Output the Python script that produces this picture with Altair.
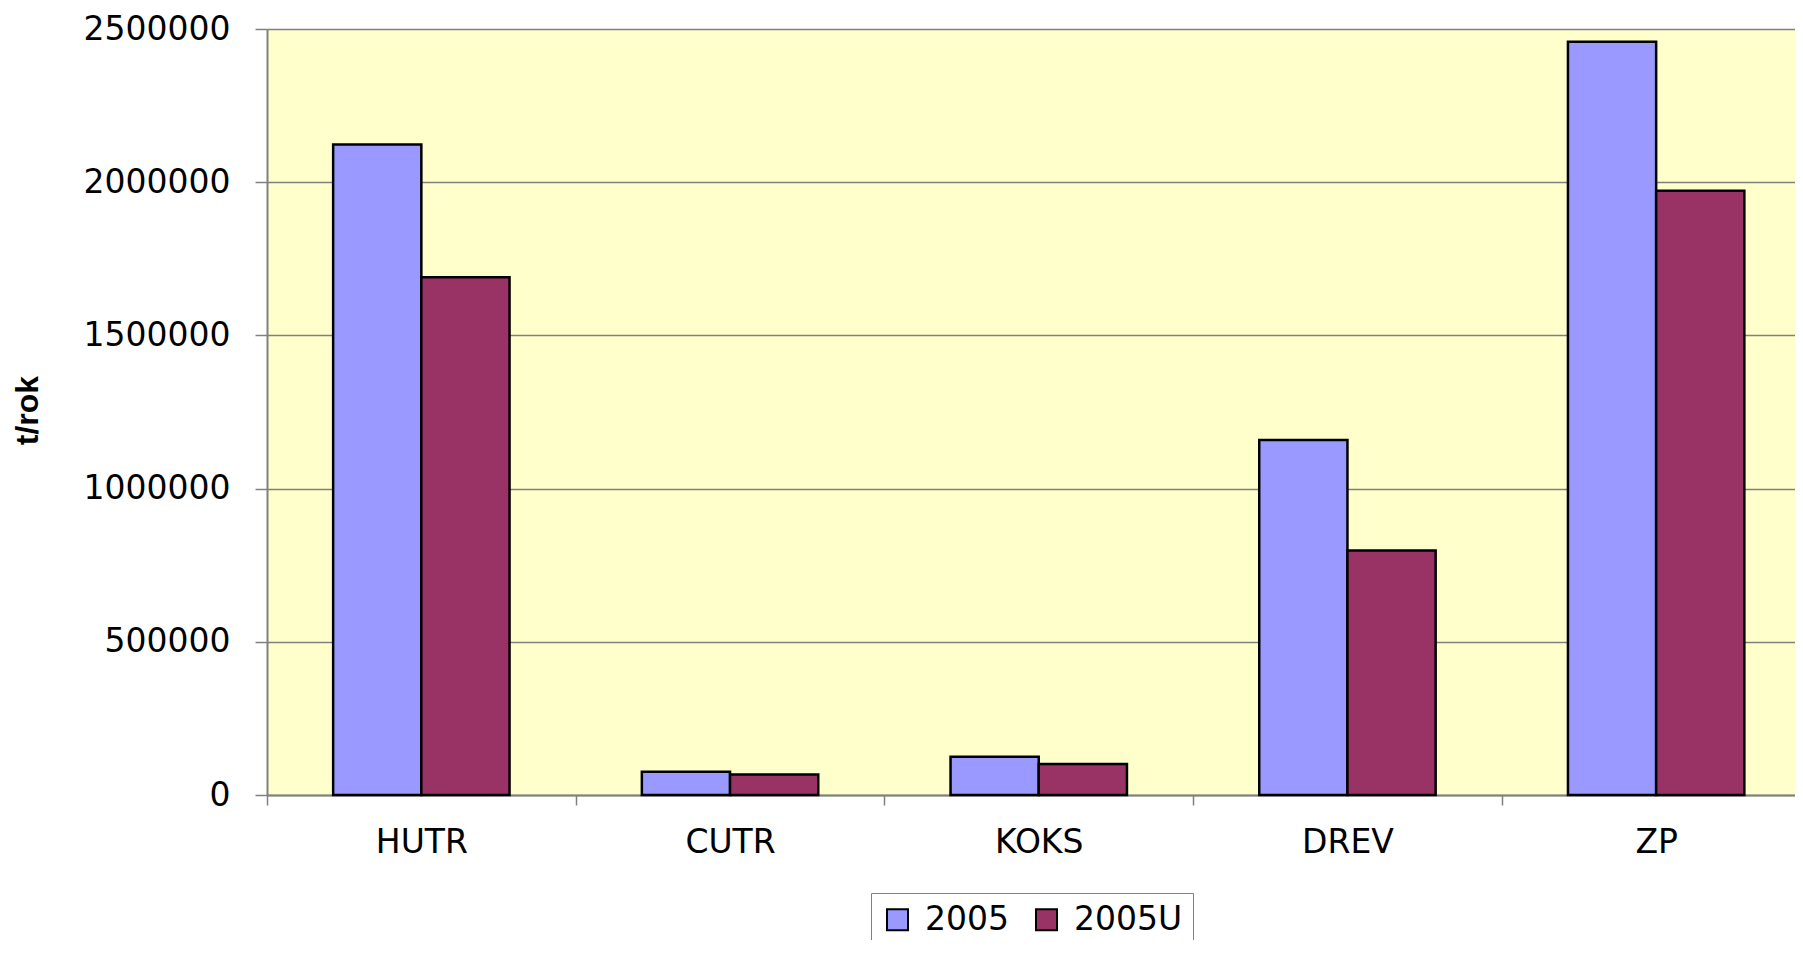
import altair as alt
import pandas as pd

categories = ["HUTR", "CUTR", "KOKS", "DREV", "ZP"]
series_names = ["2005", "2005U"]
values_2005 = [2123000, 76000, 125000, 1159000, 2458000]
values_2005U = [1690000, 67000, 101000, 798000, 1972000]
y_ticks = [0, 500000, 1000000, 1500000, 2000000, 2500000]
colors = ["#9999FF", "#993366"]

rows = []
for c, a, b in zip(categories, values_2005, values_2005U):
    rows.append({"kat": c, "rok": series_names[0], "v": a})
    rows.append({"kat": c, "rok": series_names[1], "v": b})
df = pd.DataFrame(rows)

FONT = "DejaVu Sans"
FS = 33

chart = alt.Chart(df).mark_bar(stroke="black", strokeWidth=2.5).encode(
    x=alt.X("kat:N", sort=categories,
            scale=alt.Scale(paddingInner=0, paddingOuter=0, range=[0, 1543.5]),
            axis=alt.Axis(title=None, labelAngle=0, tickBand="extent",
                          tickSize=10, tickColor="#808080", tickWidth=1.5,
                          domainColor="#808080", domainWidth=2,
                          labelPadding=21, labelFont=FONT, labelFontSize=FS,
                          labelColor="black", grid=False)),
    xOffset=alt.XOffset("rok:N", sort=series_names,
                        scale=alt.Scale(paddingInner=0, paddingOuter=0.75)),
    y=alt.Y("v:Q", scale=alt.Scale(domain=[0, 2500000], nice=False),
            axis=alt.Axis(title="t/rok", values=y_ticks, format="d",
                          tickSize=12, tickColor="#808080", tickWidth=1.5,
                          domainColor="#808080", domainWidth=2,
                          gridColor="#808080", gridWidth=1.5,
                          labelPadding=25, labelFont=FONT, labelFontSize=FS,
                          labelColor="black",
                          titleFont="Liberation Sans", titleFontSize=32,
                          titleFontWeight="bold", titleColor="black",
                          titleAngle=270, titleAlign="center",
                          titleBaseline="middle",
                          titleX=-240, titleY=381)),
    color=alt.Color("rok:N", sort=series_names,
                    scale=alt.Scale(domain=series_names, range=colors),
                    legend=alt.Legend(title=None, orient="none",
                                      direction="horizontal",
                                      legendX=604, legendY=864,
                                      symbolType="square", symbolSize=441,
                                      symbolStrokeColor="black",
                                      symbolStrokeWidth=2,
                                      symbolOpacity=1,
                                      labelFont=FONT, labelFontSize=FS,
                                      labelColor="black", labelOffset=11,
                                      columnPadding=21,
                                      padding=10, strokeColor="#808080",
                                      fillColor="white")),
).properties(
    width=1528,
    height=766,
    autosize=alt.AutoSizeParams(type="none"),
    padding={"left": 259, "top": 21, "right": 0, "bottom": 145},
).configure_view(
    fill="#FFFFCC", strokeWidth=0
)

chart.save("out.html", embed_options={"renderer": "svg", "actions": False})
